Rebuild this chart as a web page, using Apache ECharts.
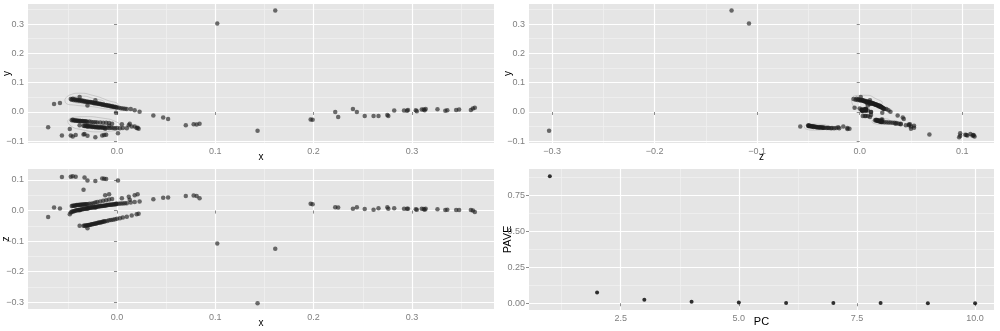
<!DOCTYPE html>
<html>
<head>
<meta charset="utf-8">
<script src="https://cdn.jsdelivr.net/npm/echarts@6/dist/echarts.min.js"></script>
<style>
  html, body { margin: 0; padding: 0; background: #fff; }
  #main { width: 1000px; height: 331px; }
</style>
</head>
<body>
<div id="main"></div>
<script>
// point groups, each entry is [x, y, z]
var upperBand = [
  [-0.047, 0.044, -0.006], [-0.046, 0.042, -0.004], [-0.045, 0.045, -0.003], [-0.044, 0.041, -0.002],
  [-0.043, 0.043, -0.001], [-0.042, 0.040, 0.000], [-0.041, 0.042, 0.001], [-0.040, 0.039, 0.001],
  [-0.039, 0.041, 0.002], [-0.038, 0.038, 0.003], [-0.037, 0.040, 0.003], [-0.036, 0.037, 0.004],
  [-0.035, 0.039, 0.004], [-0.034, 0.036, 0.005], [-0.033, 0.037, 0.006], [-0.032, 0.035, 0.006],
  [-0.031, 0.036, 0.007], [-0.030, 0.034, 0.007], [-0.029, 0.035, 0.008], [-0.028, 0.033, 0.009],
  [-0.027, 0.034, 0.009], [-0.026, 0.032, 0.010], [-0.025, 0.033, 0.010], [-0.024, 0.031, 0.011],
  [-0.023, 0.030, 0.011], [-0.022, 0.031, 0.012], [-0.021, 0.029, 0.012], [-0.020, 0.030, 0.013],
  [-0.019, 0.028, 0.013], [-0.018, 0.027, 0.014], [-0.017, 0.028, 0.014], [-0.016, 0.026, 0.015],
  [-0.015, 0.025, 0.015], [-0.014, 0.026, 0.016], [-0.013, 0.024, 0.016], [-0.012, 0.023, 0.017],
  [-0.011, 0.024, 0.017], [-0.010, 0.022, 0.018], [-0.009, 0.021, 0.018], [-0.008, 0.022, 0.019],
  [-0.007, 0.020, 0.019], [-0.006, 0.019, 0.019], [-0.005, 0.020, 0.020], [-0.004, 0.018, 0.020],
  [-0.003, 0.017, 0.021], [-0.002, 0.018, 0.021], [-0.001, 0.016, 0.021], [0.000, 0.015, 0.022],
  [0.002, 0.014, 0.022], [0.004, 0.013, 0.023], [0.006, 0.012, 0.023], [0.008, 0.011, 0.024],
  [0.010, 0.010, 0.024], [0.014, 0.010, 0.026], [0.018, 0.006, 0.028], [0.023, 0.001, 0.030],
  [-0.038, 0.051, 0.001], [-0.022, 0.040, 0.010], [-0.030, 0.022, 0.008], [-0.001, -0.003, 0.022]
];
var lowerBandA = [
  [-0.046, -0.028, 0.015], [-0.045, -0.027, 0.016], [-0.044, -0.029, 0.016], [-0.043, -0.028, 0.017],
  [-0.042, -0.030, 0.017], [-0.041, -0.029, 0.018], [-0.040, -0.030, 0.018], [-0.039, -0.031, 0.018],
  [-0.038, -0.030, 0.019], [-0.037, -0.031, 0.019], [-0.036, -0.032, 0.019], [-0.035, -0.031, 0.020],
  [-0.034, -0.032, 0.020], [-0.033, -0.033, 0.020], [-0.032, -0.032, 0.021], [-0.031, -0.033, 0.021],
  [-0.030, -0.034, 0.021], [-0.028, -0.033, 0.022], [-0.026, -0.034, 0.022], [-0.024, -0.035, 0.024],
  [-0.022, -0.035, 0.026], [-0.020, -0.036, 0.028], [-0.017, -0.036, 0.030], [-0.014, -0.037, 0.032],
  [-0.011, -0.037, 0.034], [-0.008, -0.038, 0.036], [-0.005, -0.040, 0.038], [0.005, -0.042, 0.040],
  [0.012, -0.045, 0.045], [0.018, -0.050, 0.050], [0.021, -0.054, 0.053], [0.013, -0.040, 0.035],
  [-0.012, -0.057, 0.050], [-0.008, -0.047, 0.053]
];
var lowerBandB = [
  [-0.034, -0.047, -0.050], [-0.033, -0.048, -0.050], [-0.032, -0.047, -0.049], [-0.031, -0.049, -0.049],
  [-0.030, -0.048, -0.048], [-0.029, -0.049, -0.047], [-0.028, -0.050, -0.047], [-0.027, -0.049, -0.046],
  [-0.026, -0.050, -0.045], [-0.025, -0.051, -0.045], [-0.024, -0.050, -0.044], [-0.023, -0.051, -0.043],
  [-0.022, -0.052, -0.042], [-0.021, -0.051, -0.042], [-0.020, -0.052, -0.041], [-0.019, -0.053, -0.040],
  [-0.018, -0.052, -0.039], [-0.017, -0.053, -0.039], [-0.016, -0.052, -0.038], [-0.015, -0.053, -0.037],
  [-0.014, -0.054, -0.036], [-0.013, -0.053, -0.036], [-0.012, -0.054, -0.035], [-0.010, -0.054, -0.034],
  [-0.008, -0.055, -0.032], [-0.006, -0.054, -0.031], [-0.004, -0.055, -0.030], [-0.002, -0.056, -0.028],
  [0.000, -0.055, -0.027], [0.003, -0.056, -0.025], [0.006, -0.055, -0.023], [0.010, -0.056, -0.020],
  [0.015, -0.050, -0.016], [0.020, -0.055, -0.012], [0.022, -0.057, -0.010], [-0.038, -0.045, -0.050],
  [-0.030, -0.050, -0.058], [-0.048, -0.058, -0.012]
];
var lowScatter = [
  [-0.056, -0.080, 0.110], [-0.047, -0.080, 0.111], [-0.045, -0.084, 0.112], [-0.042, -0.079, 0.111],
  [-0.033, -0.075, 0.108], [-0.030, -0.081, 0.098], [-0.022, -0.086, 0.097], [-0.015, -0.080, 0.105],
  [-0.013, -0.079, 0.104], [-0.011, -0.078, 0.103], [0.001, -0.073, 0.098], [-0.034, -0.077, 0.068]
];
var leftPoints = [
  [-0.070, -0.052, -0.021], [-0.064, 0.027, 0.010], [-0.058, 0.031, 0.007]
];
var midPoints = [
  [0.037, -0.012, 0.037], [0.047, -0.019, 0.042], [0.052, -0.024, 0.043], [0.070, -0.045, 0.048],
  [0.078, -0.042, 0.049], [0.081, -0.043, 0.048], [0.084, -0.040, 0.040]
];
var rightGroup = [
  [0.197, -0.026, 0.022], [0.199, -0.027, 0.021], [0.222, 0.000, 0.011], [0.225, -0.017, 0.010],
  [0.240, 0.010, 0.006], [0.244, 0.000, 0.011], [0.252, -0.014, 0.005], [0.261, -0.014, 0.003],
  [0.266, -0.014, 0.008], [0.275, -0.010, 0.011], [0.276, -0.014, 0.006], [0.282, 0.005, 0.008],
  [0.292, 0.005, 0.006], [0.295, 0.004, 0.006], [0.296, 0.007, 0.006], [0.304, 0.006, 0.004],
  [0.305, 0.002, 0.003], [0.310, 0.008, 0.006], [0.312, 0.008, 0.005], [0.314, 0.010, 0.006],
  [0.313, 0.006, 0.003], [0.326, 0.009, 0.004], [0.334, 0.004, 0.002], [0.336, 0.006, 0.003],
  [0.345, 0.007, 0.002], [0.348, 0.008, 0.002], [0.360, 0.007, 0.002], [0.362, 0.012, 0.000],
  [0.364, 0.014, -0.005]
];
var outliers = [
  [0.102, 0.302, -0.108], [0.161, 0.346, -0.125], [0.143, -0.064, -0.303]
];

// faint density outlines (x-y panel and z-y panel)
var contourXYUpper = [[-0.053, 0.042], [-0.048, 0.058], [-0.038, 0.064], [-0.025, 0.057], [-0.010, 0.040], [0.001, 0.022],
  [0.000, 0.008], [-0.010, 0.010], [-0.025, 0.018], [-0.042, 0.023], [-0.052, 0.030], [-0.053, 0.042]];
var contourXYUpperIn = [[-0.048, 0.043], [-0.044, 0.052], [-0.036, 0.054], [-0.025, 0.047], [-0.013, 0.032], [-0.016, 0.025],
  [-0.030, 0.027], [-0.044, 0.033], [-0.048, 0.043]];
var contourXYLower = [[-0.050, -0.030], [-0.045, -0.019], [-0.033, -0.016], [-0.015, -0.021], [0.000, -0.035], [0.004, -0.050],
  [-0.003, -0.064], [-0.018, -0.068], [-0.035, -0.061], [-0.048, -0.045], [-0.050, -0.030]];
var contourZYUpper = [[-0.008, 0.045], [-0.004, 0.056], [0.006, 0.057], [0.016, 0.045], [0.022, 0.030], [0.018, 0.022],
  [0.008, 0.022], [0.002, 0.012], [-0.006, 0.020], [-0.008, 0.045]];
var contourZYLeft = [[-0.054, -0.050], [-0.050, -0.041], [-0.040, -0.042], [-0.032, -0.050], [-0.034, -0.060], [-0.045, -0.062],
  [-0.053, -0.057], [-0.054, -0.050]];
var contourZYMid = [[0.012, -0.030], [0.017, -0.022], [0.027, -0.024], [0.030, -0.035], [0.022, -0.042], [0.013, -0.038],
  [0.012, -0.030]];

// variance explained per principal component
var pcNumbers = [1, 2, 3, 4, 5, 6, 7, 8, 9, 10];
var paveValues = [0.885, 0.075, 0.024, 0.010, 0.005, 0.002, 0.001, 0.001, 0.000, 0.000];

// tick positions
var xTicks = [0, 0.1, 0.2, 0.3];
var xMinor = [-0.05, 0.05, 0.15, 0.25, 0.35];
var yTicks = [-0.1, 0, 0.1, 0.2, 0.3];
var yMinor = [-0.05, 0.05, 0.15, 0.25, 0.35];
var zTicks = [-0.3, -0.2, -0.1, 0, 0.1];
var zMinor = [-0.25, -0.15, -0.05, 0.05];
var pcTicks = [2.5, 5, 7.5, 10];
var pcMinor = [1.25, 3.75, 6.25, 8.75];
var paveTicks = [0, 0.25, 0.5, 0.75];
var paveMinor = [0.125, 0.375, 0.625, 0.875];

var allPoints = [].concat(upperBand, lowerBandA, lowerBandB, lowScatter, leftPoints, midPoints, rightGroup, outliers);

var FONT = 'Liberation Sans';
var LABEL_GREY = '#7f7f7f';

function fmt1 (v) { return v.toFixed(1).replace('-', '\u2212'); }
function fmt2 (v) { return v.toFixed(2); }

// minor axis (light lines only) + major axis (labels, ticks, white lines)
function axisPair (dim, grid, min, max, ticks, minors, name, fmt, nameGap, nameSize) {
  var pos = dim === 'x' ? 'bottom' : 'left';
  var minor = {
    type: 'value', gridIndex: grid, min: min, max: max, position: pos, offset: 0,
    axisLine: { show: false },
    axisTick: { show: false, customValues: minors },
    axisLabel: { show: false, customValues: minors },
    splitLine: { show: true, lineStyle: { color: '#f0f0f0', width: 0.8 } },
    z: 0
  };
  var major = {
    type: 'value', gridIndex: grid, min: min, max: max, position: pos, offset: 0,
    name: name, nameLocation: 'middle', nameGap: nameGap, nameMoveOverlap: false,
    nameTextStyle: { color: '#000', fontSize: nameSize, fontFamily: FONT },
    axisLine: { show: false },
    axisTick: { show: true, length: 3, customValues: ticks, lineStyle: { color: '#8c8c8c' } },
    axisLabel: { customValues: ticks, formatter: fmt, color: LABEL_GREY, fontSize: 9, fontFamily: FONT, margin: 4 },
    splitLine: { show: true, lineStyle: { color: '#ffffff', width: 1.2 } },
    z: 1
  };
  if (dim === 'y') major.nameRotate = 90;
  return [minor, major];
}

var xAxes = [].concat(
  axisPair('x', 0, -0.0905, 0.3835, xTicks, xMinor, 'x', fmt1, 9, 10),
  axisPair('x', 1, -0.3226, 0.131, zTicks, zMinor, 'z', fmt1, 9, 10),
  axisPair('x', 2, -0.0905, 0.3835, xTicks, xMinor, 'x', fmt1, 9, 10),
  axisPair('x', 3, 0.559, 10.4, pcTicks, pcMinor, 'PC', function (v) { return v.toFixed(1); }, 6, 11)
);
var yAxes = [].concat(
  axisPair('y', 0, -0.106, 0.3686, yTicks, yMinor, 'y', fmt1, 16, 10),
  axisPair('y', 1, -0.106, 0.3686, yTicks, yMinor, 'y', fmt1, 16, 10),
  axisPair('y', 2, -0.322, 0.136, zTicks, zMinor, 'z', fmt1, 17, 10),
  axisPair('y', 3, -0.047, 0.936, paveTicks, paveMinor, 'PAVE', fmt2, 16, 11)
);

function panelSeries (panel, xi, yi) {
  return {
    type: 'scatter',
    xAxisIndex: panel * 2 + 1,
    yAxisIndex: panel * 2 + 1,
    symbolSize: 4.5,
    itemStyle: { color: 'rgba(30,30,30,0.8)' },
    silent: true,
    z: 3,
    data: allPoints.map(function (p) { return [p[xi], p[yi]]; })
  };
}

function contourSeries (panel, pts) {
  return {
    type: 'line',
    xAxisIndex: panel * 2 + 1,
    yAxisIndex: panel * 2 + 1,
    data: pts,
    smooth: 0.6,
    showSymbol: false,
    silent: true,
    z: 2,
    lineStyle: { color: 'rgba(160,160,160,0.55)', width: 0.8 }
  };
}

function panelGrid (left, right, top, bottom) {
  return {
    left: left, right: right, top: top, bottom: bottom,
    outerBoundsMode: 'none', containLabel: false,
    show: true, backgroundColor: '#e5e5e5', borderWidth: 0
  };
}

var chart = echarts.init(document.getElementById('main'), null, { renderer: 'canvas' });
chart.setOption({
  animation: false,
  textStyle: { fontFamily: FONT },
  grid: [
    panelGrid(28, 506, 4, 188),
    panelGrid(529, 6, 4, 188),
    panelGrid(28, 506, 169, 22),
    panelGrid(529, 6, 169, 21)
  ],
  xAxis: xAxes,
  yAxis: yAxes,
  series: [
    contourSeries(0, contourXYUpper),
    contourSeries(0, contourXYUpperIn),
    contourSeries(0, contourXYLower),
    contourSeries(1, contourZYUpper),
    contourSeries(1, contourZYLeft),
    contourSeries(1, contourZYMid),
    panelSeries(0, 0, 1),
    panelSeries(1, 2, 1),
    panelSeries(2, 0, 2),
    {
      type: 'scatter',
      xAxisIndex: 7,
      yAxisIndex: 7,
      symbolSize: 4,
      itemStyle: { color: '#000' },
      silent: true,
      z: 3,
      data: pcNumbers.map(function (n, i) { return [n, paveValues[i]]; })
    }
  ]
});
</script>
</body>
</html>
